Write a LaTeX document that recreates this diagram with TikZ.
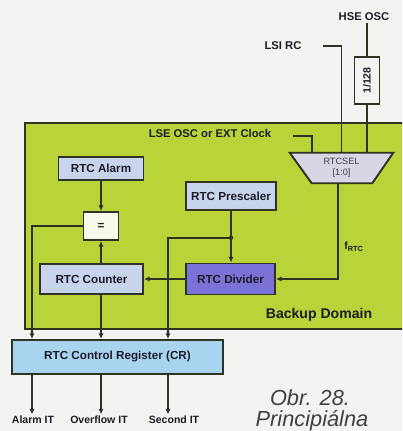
\documentclass[tikz,border=0pt]{standalone}
\usepackage{fontspec}
\usepackage{graphicx}
\setmainfont{Liberation Sans}
\usetikzlibrary{arrows.meta,positioning,calc}
\definecolor{paper}{RGB}{243,243,241}
\definecolor{domfill}{RGB}{184,212,56}
\definecolor{boxfill}{RGB}{200,212,236}
\definecolor{divfill}{RGB}{122,114,214}
\definecolor{crfill}{RGB}{168,212,240}
\definecolor{selfill}{RGB}{216,214,228}
\definecolor{eqfill}{RGB}{248,248,236}
\definecolor{wireclr}{RGB}{48,50,36}
\definecolor{txtclr}{RGB}{28,28,40}
\definecolor{capclr}{RGB}{64,64,64}

\begin{document}
\begin{tikzpicture}[
  x=0.25mm, y=-0.25mm,
  blk/.style={rectangle, draw=wireclr, line width=0.48mm, fill=boxfill,
              inner sep=0pt, text=txtclr,
              font=\fontsize{8.3}{10}\selectfont\bfseries},
  lbl/.style={inner sep=1pt, text=txtclr,
              font=\fontsize{8}{9}\selectfont\bfseries},
  outlbl/.style={inner sep=1pt, text=txtclr,
              font=\fontsize{7.5}{8}\selectfont\bfseries},
  wire/.style={draw=wireclr, line width=0.42mm},
  arr/.style={draw=wireclr, line width=0.42mm,
              -{Latex[length=1.4mm,width=1.3mm]}},
  captxt/.style={inner sep=0pt, text=capclr,
              font=\fontsize{15.5}{18}\selectfont\itshape}
]
\useasboundingbox (0,0) rectangle (402,431);
\fill[paper] (0,0) rectangle (402,431);
% Backup domain
\begin{scope}
\clip (0,0) rectangle (402,431);
\node[draw=wireclr, line width=0.55mm, fill=domfill, inner sep=0pt,
      minimum width=97mm, minimum height=51.5mm, anchor=north west]
  (bkp) at (24,122) {};
\end{scope}
\node[lbl, font=\fontsize{10}{12}\selectfont\bfseries] (bkplbl) at (319,315) {Backup Domain};

% blocks
\node[blk, minimum width=21.25mm, minimum height=5.75mm] (alarm) at (101,168.5) {RTC Alarm};
\node[blk, minimum width=22.5mm, minimum height=7mm] (presc) at (231,196) {RTC Prescaler};
\node[blk, fill=eqfill, minimum width=8.75mm, minimum height=7mm] (eq) at (101,226) {=};
\node[blk, minimum width=25.75mm, minimum height=7.5mm] (cnt) at (91.5,279) {RTC Counter};
\node[blk, fill=divfill, minimum width=22.25mm, minimum height=7.75mm] (div) at (230.5,279) {RTC Divider};
\node[blk, fill=crfill, minimum width=52.75mm, minimum height=8.5mm] (cr) at (117.5,357) {RTC Control Register (CR)};
\node[blk, fill=paper, minimum width=6.25mm, minimum height=11.75mm,
      font=\fontsize{7.5}{9}\selectfont\bfseries] (d128) at (367,80.5) {\rotatebox{90}{1/128}};

% clock selector
\node[inner sep=0pt, minimum width=25.75mm, minimum height=7.5mm] (sel) at (341.5,168) {};
\fill[selfill, draw=wireclr, line width=0.48mm]
  (sel.north west) -- (sel.north east) -- ($(sel.south east)+(-21,0)$)
  -- ($(sel.south west)+(22,0)$) -- cycle;
\node[inner sep=0pt, align=center, text=txtclr!85,
      font=\fontsize{6.5}{8}\selectfont] (seltxt) at (sel) {RTCSEL\\{[1:0]}};

% sources
\node[lbl] (hse) at (364,17) {HSE OSC};
\node[lbl] (lsi) at (283,46) {LSI RC};
\node[lbl] (lse) at (210,133) {LSE OSC or EXT Clock};
\coordinate (lsiend) at (323,46);
\coordinate (lseend) at (293,136);
\coordinate (xe) at (312,0);
\coordinate (xf) at (338,0);
\draw[wire] (hse.south -| d128.north) -- (d128.north);
\draw[wire] (d128.south) -- (d128.south |- sel.north);
\draw[wire] (lsiend) -| (sel.north);
\draw[wire] (lseend) -| (xe |- sel.north);

% internal connections
\node[outlbl] (frtc) at (354,247) {f\textsubscript{RTC}};
\draw[arr] (xf |- sel.south) |- (div.east);
\draw[arr] (presc.south) -- (presc.south |- div.north);
\coordinate (jn) at ($(presc.south)!0.52!(presc.south |- div.north)$);
\fill[wireclr] (jn) circle (2.2);
\draw[arr] (div.west) -- (div.west -| cnt.east);
\draw[arr] (alarm.south) -- (eq.north);
\draw[arr] (eq.south |- cnt.north) -- (eq.south);

% to control register
\coordinate (xa) at (32,0);
\coordinate (xs) at (168,0);
\draw[arr] (eq.west) -| (xa |- cr.north);
\draw[arr] (eq.south |- cnt.south) -- (eq.south |- cr.north);
\draw[arr] (jn) -| (xs |- cr.north);

% interrupts
\node[outlbl] (almit) at (33,420) {Alarm IT};
\node[outlbl] (ovfit) at (99,420) {Overflow IT};
\node[outlbl] (secit) at (174,420) {Second IT};
\draw[arr] (xa |- cr.south) -- (xa |- almit.north);
\draw[arr] (eq.south |- cr.south) -- (eq.south |- ovfit.north);
\draw[arr] (xs |- cr.south) -- (xs |- secit.north);

% caption
\node[captxt] (obr) at (310,398) {Obr. 28.};
\node[captxt] (princ) at (312,421) {Principiálna};
\end{tikzpicture}
\end{document}
